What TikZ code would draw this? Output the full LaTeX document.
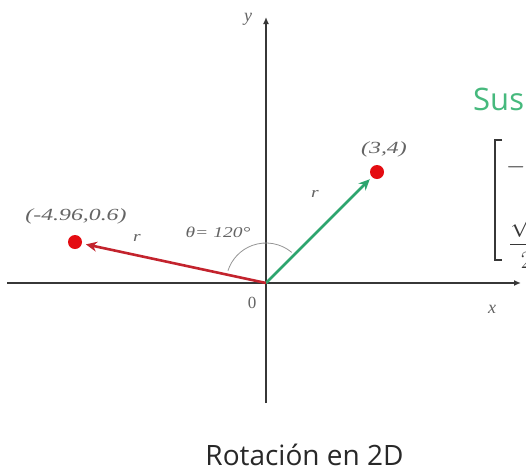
\documentclass[tikz,border=0pt]{standalone}
\usepackage{amsmath}
\usepackage{fontspec}
\setmainfont{Liberation Serif}
\newfontfamily\capfont{Open Sans}
\usetikzlibrary{arrows.meta}
\definecolor{axisgray}{RGB}{55,55,55}
\definecolor{labelgray}{RGB}{100,100,100}
\definecolor{arcgray}{RGB}{150,150,150}
\definecolor{dotred}{RGB}{228,12,18}
\definecolor{vecred}{RGB}{195,35,45}
\definecolor{vecgreen}{RGB}{45,165,110}
\definecolor{susgreen}{RGB}{70,185,125}
\definecolor{captiongray}{RGB}{40,40,40}
\tikzset{
  axisline/.style={draw=axisgray, line width=2.2pt, -{Latex[length=7pt,width=6pt]}},
  vecg/.style={draw=vecgreen, line width=2.6pt, -{Stealth[length=11pt,width=10pt]}, shorten >=3pt},
  vecr/.style={draw=vecred, line width=2.6pt, -{Stealth[length=11pt,width=10pt]}, shorten >=4pt},
  reddot/.style={circle, fill=dotred, inner sep=0pt, minimum size=14pt},
  ptlabel/.style={text=labelgray, font=\fontsize{17}{20}\selectfont\itshape, xscale=1.4, inner sep=0pt},
  anglabel/.style={text=labelgray, font=\fontsize{15}{18}\selectfont\itshape, xscale=1.3, inner sep=0pt},
  axlabel/.style={text=labelgray, font=\fontsize{18}{21}\selectfont\itshape, inner sep=0pt},
  zerolabel/.style={text=labelgray, font=\fontsize{17}{20}\selectfont, inner sep=0pt},
  mathentry/.style={anchor=base west, inner sep=0pt, text=axisgray, font=\fontsize{24}{28}\selectfont},
}
\begin{document}
\begin{tikzpicture}[x=1pt,y=-1pt]
\useasboundingbox (0,0) rectangle (526,472);
\clip (0,0) rectangle (526,472);
\fill[white] (0,0) rectangle (526,472);
% axes
\coordinate (O) at (266,283);
\coordinate (xs) at (7,283);
\coordinate (xe) at (521,283);
\coordinate (ys) at (266,403);
\coordinate (ye) at (266,17);
\draw[axisline] (xs) -- (xe);
\draw[axisline] (ys) -- (ye);
\node[axlabel] (ylab) at (248,19) {y};
\node[axlabel] (xlab) at (492,309) {x};
\node[zerolabel] (zero) at (252,303) {0};
% angle arc
\draw[arcgray, line width=0.8pt] (O) ++(-50:40) arc[start angle=-50, end angle=-162, radius=40];
% points
\node[reddot] (P) at (377,172) {};
\node[reddot] (Q) at (75,242) {};
\draw[vecg] (O) -- (P);
\draw[vecr] (O) -- (Q);
\node[ptlabel] (lP) at (384,149) {(3,4)};
\node[ptlabel] (lQ) at (76,216) {(-4.96,0.6)};
\node[anglabel] (rP) at (315,194) {r};
\node[anglabel] (rQ) at (137,238) {r};
\node[anglabel] (th) at (218,232) {θ= 120°};
% right side (cropped)
\node[anchor=base west, inner sep=0pt, text=susgreen, font=\capfont\fontsize{31}{36}\selectfont] (sus) at (473,110) {Sus};
\draw[axisgray, line width=2.6pt] (502,140) -- (495,140) -- (495,260) -- (502,260);
\node[mathentry] (m11) at (506,173) {$-\dfrac{1}{2}$};
\node[mathentry] (m21) at (509,251) {$\dfrac{\sqrt{3}}{2}$};
% caption
\node[anchor=base, inner sep=0pt, text=captiongray, font=\capfont\fontsize{28}{32}\selectfont] (cap) at (304.5,465) {Rotación en 2D};
\end{tikzpicture}
\end{document}
